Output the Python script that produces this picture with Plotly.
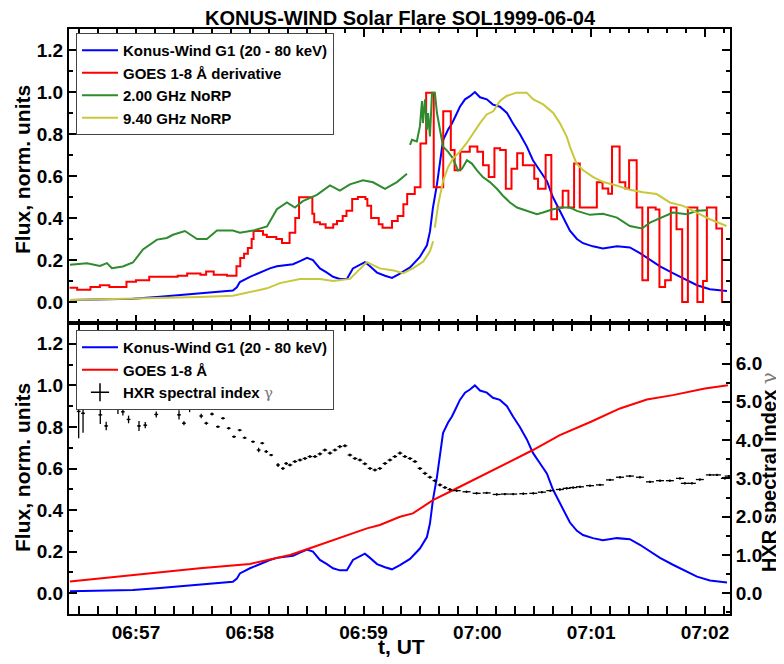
import plotly.graph_objects as go

# ---------------- data (time = seconds after 06:56:00 UT, 1999-06-04) ----------------
tick_seconds = [60, 120, 180, 240, 300, 360]
tick_labels = ["06:57", "06:58", "06:59", "07:00", "07:01", "07:02"]
t_range = [24.7, 373.2]

# Konus-Wind G1 (20-80 keV), normalized
konus_t = [25.2, 41.0, 58.4, 72.7, 84.8, 99.0, 111.1, 113.2, 114.8, 120.1, 125.4, 130.6, 134.3, 138.5,
           142.8, 146.5, 150.2, 153.3, 157.0, 160.7, 163.9, 167.5, 171.2, 174.4, 178.1, 180.7, 183.4,
           187.1, 191.3, 195.0, 199.2, 204.5, 209.7, 213.4, 215.0, 216.6, 218.7, 220.3, 221.9, 224.5,
           226.6, 228.2, 230.8, 233.5, 236.1, 238.7, 241.4, 245.0, 248.2, 251.9, 255.6, 258.8, 262.4,
           266.1, 269.3, 273.0, 276.7, 279.8, 283.5, 287.2, 288.8, 292.5, 295.7, 300.9, 306.2, 313.6,
           320.4, 325.7, 331.0, 336.3, 343.1, 348.4, 355.8, 362.6, 371.6]
konus_v = [0.010, 0.012, 0.016, 0.025, 0.035, 0.045, 0.055, 0.07, 0.095, 0.12, 0.14, 0.16, 0.17, 0.175,
           0.18, 0.195, 0.21, 0.20, 0.16, 0.14, 0.12, 0.11, 0.11, 0.16, 0.18, 0.19, 0.17,
           0.14, 0.125, 0.115, 0.135, 0.165, 0.215, 0.27, 0.335, 0.45, 0.56, 0.675, 0.77, 0.82,
           0.85, 0.88, 0.93, 0.965, 0.98, 1.0, 0.975, 0.965, 0.94, 0.93, 0.90, 0.85, 0.80,
           0.74, 0.675, 0.625, 0.575, 0.50, 0.435, 0.37, 0.34, 0.30, 0.28, 0.265, 0.255, 0.265,
           0.26, 0.233, 0.20, 0.17, 0.137, 0.113, 0.08, 0.061, 0.052]

# GOES 1-8 A derivative (step curve), normalized
goesd_t = [25, 29, 36, 41, 46, 55, 60, 67, 82, 87, 94, 97, 101, 108, 113, 115, 117, 119, 121, 122,
           127, 129, 134, 137, 141, 144, 146, 153, 154, 157, 160, 164, 166, 169, 171, 174, 177, 181,
           182, 184, 188, 190, 195, 198, 201, 203, 207, 210, 213, 217, 222, 226, 228, 231, 236, 240,
           243, 246, 249, 252, 255, 258, 261, 264, 270, 272, 276, 279, 282, 285, 288, 291, 294, 303,
           306, 309, 311, 315, 318, 320, 324, 327, 330, 334, 336, 339, 342, 345, 348, 351, 356, 359,
           361, 366, 369, 371]
goesd_v = [0.068, 0.058, 0.072, 0.080, 0.072, 0.096, 0.104, 0.12, 0.125, 0.136, 0.13, 0.145, 0.13, 0.125,
           0.17, 0.21, 0.23, 0.257, 0.30, 0.338, 0.32, 0.31, 0.30, 0.281, 0.33, 0.40, 0.499, 0.42, 0.38,
           0.37, 0.354, 0.37, 0.386, 0.41, 0.434, 0.49, 0.50, 0.49, 0.458, 0.40, 0.37, 0.354, 0.386, 0.41,
           0.466, 0.514, 0.547, 0.755, 0.997, 0.547, 0.908, 0.724, 0.627, 0.716, 0.740, 0.716, 0.651,
           0.595, 0.732, 0.724, 0.539, 0.635, 0.708, 0.651, 0.587, 0.539, 0.70, 0.394, 0.45, 0.53, 0.45,
           0.66, 0.45, 0.57, 0.54, 0.515, 0.74, 0.57, 0.54, 0.675, 0.45, 0.104, 0.45, 0.44, 0.072, 0.104,
           0.45, 0.346, 0.0, 0.45, 0.0, 0.10, 0.45, 0.35, 0.0, 0.0]

# NoRP 2.00 GHz (two segments, gap in the record)
norp2_t1 = [25.2, 34.2, 41.0, 44.7, 47.3, 53.1, 58.4, 63.7, 71.1, 76.3, 79.5, 85.8, 92.2, 97.4, 102.7,
            111.1, 114.8, 121.7, 129.1, 134.3, 139.6, 143.8, 148.0, 155.4, 162.3, 167.5, 172.8, 179.7,
            185.0, 191.3, 197.6, 202.9]
norp2_v1 = [0.177, 0.185, 0.172, 0.185, 0.161, 0.169, 0.188, 0.25, 0.297, 0.305, 0.32, 0.338, 0.30, 0.30,
            0.34, 0.34, 0.33, 0.34, 0.36, 0.442, 0.474, 0.45, 0.48, 0.51, 0.555, 0.53, 0.56, 0.58,
            0.57, 0.539, 0.571, 0.611]
norp2_t2 = [204.5, 205.5, 208.1, 209.7, 210.8, 211.3, 212.4, 213.4, 214.0, 215.0, 216.1, 217.6, 218.7,
            220.3, 221.9, 224.5, 227.1, 229.8, 231.9, 234.5, 237.1, 239.8, 242.9, 246.6, 250.3, 253.5,
            257.2, 260.9, 266.1, 271.4, 274.6, 279.8, 285.1, 288.8, 292.5, 299.3, 306.2, 313.6, 320.4,
            326.8, 331.0, 336.3, 343.1, 350.5, 355.8, 361.0]
norp2_v2 = [0.748, 0.772, 0.764, 0.836, 0.957, 0.852, 0.965, 0.82, 0.90, 0.788, 0.997, 0.997, 0.90,
            0.82, 0.74, 0.716, 0.684, 0.627, 0.635, 0.675, 0.659, 0.627, 0.595, 0.571, 0.539, 0.506,
            0.474, 0.45, 0.434, 0.418, 0.426, 0.442, 0.45, 0.45, 0.434, 0.415, 0.42, 0.402, 0.362,
            0.35, 0.378, 0.398, 0.426, 0.418, 0.434, 0.437]

# NoRP 9.40 GHz (two segments)
norp9_t1 = [25.2, 58.4, 93.7, 111.1, 121.7, 129.1, 135.9, 146.5, 157.0, 163.9, 172.8, 178.1, 181.8,
            188.6, 195.9, 200.9, 206.2, 211.5, 215.0, 216.7]
norp9_v1 = [0.01, 0.016, 0.024, 0.03, 0.05, 0.065, 0.09, 0.11, 0.11, 0.10, 0.11, 0.16, 0.19,
            0.16, 0.15, 0.137, 0.161, 0.193, 0.241, 0.289]
norp9_t2 = [217.6, 219.4, 222.0, 224.6, 227.3, 230.8, 234.3, 237.8, 241.4, 244.9, 248.4, 251.9, 255.4,
            260.7, 266.0, 269.5, 274.7, 280.0, 283.5, 287.1, 288.8, 292.3, 295.8, 301.1, 306.4, 313.4,
            320.4, 327.4, 334.5, 341.5, 348.5, 355.6, 362.6, 371.4]
norp9_v2 = [0.354, 0.466, 0.579, 0.643, 0.684, 0.716, 0.756, 0.804, 0.852, 0.893, 0.908, 0.957, 0.981,
            0.997, 0.997, 0.965, 0.941, 0.90, 0.852, 0.788, 0.74, 0.659, 0.627, 0.595, 0.571, 0.555,
            0.534, 0.523, 0.514, 0.474, 0.458, 0.426, 0.394, 0.362]

# GOES 1-8 A flux, normalized
goes_t = [25.2, 58.4, 93.7, 120.1, 141.2, 151.7, 163.9, 181.8, 188.6, 199.2, 206.0, 216.6, 229.2, 239.8,
          255.6, 269.3, 283.5, 299.9, 315.2, 329.4, 343.1, 360.0, 372.1]
goes_v = [0.056, 0.088, 0.120, 0.141, 0.184, 0.216, 0.256, 0.312, 0.328, 0.368, 0.384, 0.448, 0.505, 0.553,
          0.625, 0.689, 0.761, 0.825, 0.889, 0.932, 0.953, 0.985, 1.0]

# HXR spectral index gamma with errors
gamma_t = [29.8, 32.1, 41.2, 44.3, 50.5, 53.1, 56.1, 61.6, 64.9, 70.7, 73.7, 82.7, 85.3, 88.3, 91.0, 94.4,
           97.1, 100.1, 103.2, 105.9, 108.9, 111.7, 114.7, 117.3, 121.7, 124.7, 126.6, 128.7, 131.3,
           134.9, 137.5, 139.2,
           141.2, 143.8, 146.5, 149.1, 151.7, 154.4, 157.0, 159.6, 162.3, 164.9, 167.5, 170.2, 172.8,
           175.5, 178.1, 180.7, 183.4, 186.0, 188.6, 191.3, 193.9, 196.5, 199.2, 201.8, 204.5, 207.1,
           209.7, 212.4, 215.0, 217.6, 220.3, 222.9, 225.5,
           229.1, 234.3, 239.6, 244.9, 250.2, 254.5, 258.9, 264.2, 269.5, 274.0, 278.5, 283.5, 287.1,
           290.5, 294.1, 299.4, 304.6, 309.9, 315.2, 320.4, 325.7, 331.0, 336.3, 341.5, 346.8, 349.4,
           353.1, 357.3, 362.6, 366.3, 370.5, 372.5]
gamma_v = [4.75, 4.70, 4.66, 4.37, 4.83, 4.74, 4.54, 4.37, 4.39, 4.67, 4.96, 4.66, 4.44, 4.83, 4.92, 4.63,
           4.44, 4.68, 4.35, 4.57, 4.31, 4.09, 4.26, 4.06, 3.96, 3.74, 3.92, 3.70, 3.61,
           3.35, 3.26, 3.39,
           3.35, 3.44, 3.48, 3.52, 3.57, 3.57, 3.64, 3.74, 3.66, 3.74, 3.83, 3.85, 3.61,
           3.52, 3.48, 3.38, 3.26, 3.22, 3.26, 3.39, 3.48, 3.57, 3.66, 3.57, 3.52, 3.44,
           3.26, 3.13, 3.03, 2.94, 2.83, 2.76, 2.71,
           2.68, 2.65, 2.61, 2.62, 2.58, 2.59, 2.59, 2.60, 2.61, 2.64, 2.68, 2.71, 2.74,
           2.76, 2.78, 2.81, 2.83, 2.96, 3.03, 3.06, 3.03, 2.91, 2.94, 2.94, 3.00, 2.87,
           2.87, 2.97, 3.09, 3.09, 3.00, 3.06]
gamma_err = [0.70, 0.51, 0.24, 0.11, 0.15, 0.10, 0.10, 0.13, 0.08, 0.08, 0.08, 0.12, 0.05, 0.10, 0.08, 0.06,
             0.04, 0.04, 0.03, 0.03, 0.03, 0.03, 0.03, 0.03, 0.03, 0.06, 0.03, 0.04, 0.03,
             0.05, 0.04, 0.04] + [0.04] * 33 + [0.03] * 32
gamma_terr = [1.0] * 32 + [1.2] * 33 + [2.1] * 32

# ---------------- styling / layout ----------------
# The page body has an 8 px margin, so the figure is made 8 px smaller and
# reference pixel positions are shifted by that offset.
OFF = 8
FW, FH = 784 - OFF, 664 - OFF


def fx(px):
    return (px - OFF) / FW


def fy(py):
    return 1 - (py - OFF) / FH


FONT = "Liberation Sans, Arial, Helvetica, sans-serif"
BLUE, RED, GREEN, YELLOW = "#0000FF", "#FF0000", "#2E8B2E", "#C8C83C"
GAMMA = "<span style='font-family:DejaVu Serif, serif;font-weight:normal;color:#777777'>γ</span>"

xdom = [fx(69), fx(730)]
ydom_top = [fy(323), fy(29)]
ydom_bot = [fy(614), fy(323)]

fig = go.Figure()

# top panel
fig.add_trace(go.Scatter(x=konus_t, y=konus_v, mode="lines", line=dict(color=BLUE, width=2),
                         name="Konus-Wind G1 (20 - 80 keV)", xaxis="x", yaxis="y", legend="legend"))
fig.add_trace(go.Scatter(x=goesd_t, y=goesd_v, mode="lines", line=dict(color=RED, width=2, shape="hv"),
                         name="GOES 1-8 Å derivative", xaxis="x", yaxis="y", legend="legend"))
fig.add_trace(go.Scatter(x=norp2_t1 + [None] + norp2_t2, y=norp2_v1 + [None] + norp2_v2, mode="lines",
                         line=dict(color=GREEN, width=2), connectgaps=False,
                         name="2.00 GHz NoRP", xaxis="x", yaxis="y", legend="legend"))
fig.add_trace(go.Scatter(x=norp9_t1 + [None] + norp9_t2, y=norp9_v1 + [None] + norp9_v2, mode="lines",
                         line=dict(color=YELLOW, width=2), connectgaps=False,
                         name="9.40 GHz NoRP", xaxis="x", yaxis="y", legend="legend"))

# bottom panel
fig.add_trace(go.Scatter(x=konus_t, y=konus_v, mode="lines", line=dict(color=BLUE, width=2),
                         name="Konus-Wind G1 (20 - 80 keV)", xaxis="x2", yaxis="y2", legend="legend2"))
fig.add_trace(go.Scatter(x=goes_t, y=goes_v, mode="lines", line=dict(color=RED, width=2),
                         name="GOES 1-8 Å", xaxis="x2", yaxis="y2", legend="legend2"))
fig.add_trace(go.Scatter(x=gamma_t, y=gamma_v, mode="markers", marker=dict(size=2, color="black"),
                         error_y=dict(type="data", array=gamma_err, color="black", thickness=1.3, width=0),
                         error_x=dict(type="data", array=gamma_terr, color="black", thickness=1.3, width=0),
                         showlegend=False, xaxis="x2", yaxis="y3"))
fig.add_trace(go.Scatter(x=[None], y=[None], mode="markers",
                         marker=dict(symbol="cross-thin", size=13, color="black",
                                     line=dict(width=1.5, color="black")),
                         name="HXR spectral index " + GAMMA, xaxis="x2", yaxis="y3", legend="legend2"))

tickfont = dict(family=FONT, size=19, color="black", weight="bold")
common = dict(showline=True, linecolor="black", linewidth=2, ticks="inside", ticklen=8, tickwidth=1.5,
              tickcolor="black", showgrid=False, zeroline=False, tickfont=tickfont)
minor_x = dict(ticks="inside", ticklen=4, tickwidth=1.5, tickcolor="black", dtick=10, tick0=0, showgrid=False)
minor_y = dict(ticks="inside", ticklen=4, tickwidth=1.5, tickcolor="black", dtick=0.1, tick0=0, showgrid=False)

legend_style = dict(xanchor="left", yanchor="top", bgcolor="white", bordercolor="#444", borderwidth=1,
                    font=dict(family=FONT, size=15, color="black", weight="bold"),
                    tracegroupgap=0, itemwidth=36)

fig.update_layout(
    width=FW, height=FH, margin=dict(l=0, r=0, t=0, b=0),
    paper_bgcolor="white", plot_bgcolor="white",
    showlegend=True,
    title=dict(text="KONUS-WIND Solar Flare SOL1999-06-04", x=fx(400), y=fy(18),
               xanchor="center", yanchor="middle",
               font=dict(family=FONT, size=20, color="black", weight="bold")),
    xaxis=dict(domain=xdom, range=t_range, anchor="y", tickmode="array", tickvals=tick_seconds,
               ticktext=tick_labels, showticklabels=False, mirror="allticks", minor=minor_x, **common),
    xaxis2=dict(domain=xdom, range=t_range, anchor="y2", tickmode="array", tickvals=tick_seconds,
                ticktext=tick_labels, showticklabels=True, mirror="allticks", minor=minor_x, **common),
    yaxis=dict(domain=ydom_top, range=[-0.1, 1.3], anchor="x", tick0=0, dtick=0.2, tickformat=".1f",
               mirror="allticks", minor=minor_y, **common),
    yaxis2=dict(domain=ydom_bot, range=[-0.1, 1.3], anchor="x2", tick0=0, dtick=0.2, tickformat=".1f",
                mirror=False, minor=minor_y, **common),
    yaxis3=dict(overlaying="y2", side="right", anchor="x2", range=[-0.543, 7.059], tickmode="array",
                tickvals=[0, 1, 2, 3, 4, 5, 6], ticktext=["0.0", "1.0", "2.0", "3.0", "4.0", "5.0", "6.0"],
                minor=dict(ticks="inside", ticklen=4, tickwidth=1.5, tickcolor="black", dtick=0.5, tick0=0,
                           showgrid=False),
                **common),
    legend=dict(x=fx(76), y=fy(33), **legend_style),
    legend2=dict(x=fx(76), y=fy(330), **legend_style),
)

axis_title_font = dict(family=FONT, size=21, color="black", weight="bold")
fig.add_annotation(text="Flux, norm. units", xref="paper", yref="paper", x=fx(22), y=fy(170),
                   textangle=-90, showarrow=False, font=axis_title_font, xanchor="center", yanchor="middle")
fig.add_annotation(text="Flux, norm. units", xref="paper", yref="paper", x=fx(22), y=fy(468),
                   textangle=-90, showarrow=False, font=axis_title_font, xanchor="center", yanchor="middle")
fig.add_annotation(text="t, UT", xref="paper", yref="paper", x=fx(401), y=fy(646),
                   showarrow=False, font=axis_title_font, xanchor="center", yanchor="middle")
fig.add_annotation(text="HXR spectral index " + GAMMA, xref="paper", yref="paper", x=fx(769), y=fy(472),
                   textangle=-90, showarrow=False,
                   font=dict(family=FONT, size=20, color="black", weight="bold"),
                   xanchor="center", yanchor="middle")

fig.write_html("out.html")
